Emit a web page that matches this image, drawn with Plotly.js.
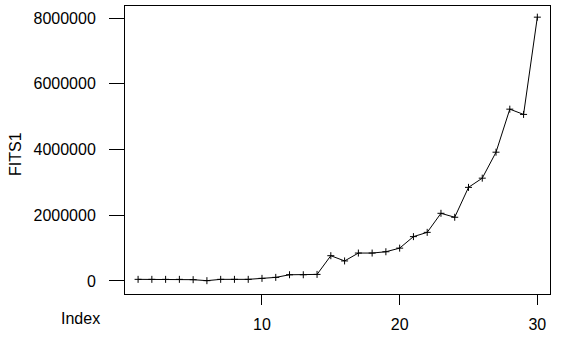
<!DOCTYPE html>
<html>
<head>
<meta charset="utf-8">
<script src="https://cdn.plot.ly/plotly-3.0.1.min.js"></script>
<style>html,body{margin:0;padding:0;background:#fff;}#chart{width:561px;height:338px;}</style>
</head>
<body>
<div id="chart"></div>
<script>
const index = [1,2,3,4,5,6,7,8,9,10,11,12,13,14,15,16,17,18,19,20,21,22,23,24,25,26,27,28,29,30];
const fits1 = [50000,50000,50000,50000,40000,10000,50000,50000,50000,80000,110000,190000,190000,200000,770000,610000,850000,850000,890000,1000000,1350000,1480000,2060000,1940000,2850000,3130000,3920000,5230000,5070000,8030000];
const xTicks = [10,20,30];
const yTicks = [0,2000000,4000000,6000000,8000000];
const xLabel = "Index";
const yLabel = "FITS1";

const font = {family: "Liberation Sans, Arial, sans-serif", size: 16, color: "#000"};

Plotly.newPlot("chart", [{
  x: index, y: fits1, type: "scatter", mode: "lines+markers",
  line: {color: "#000", width: 1},
  marker: {symbol: "cross-thin", size: 5, line: {color: "#000", width: 1}}
}], {
  width: 561, height: 338,
  margin: {l: 125, r: 11, t: 6, b: 44, pad: 0},
  paper_bgcolor: "#fff", plot_bgcolor: "#fff",
  showlegend: false,
  font: font,
  xaxis: {
    range: [0.05, 30.92], tickvals: xTicks, ticktext: xTicks.map(String),
    showgrid: false, zeroline: false, showline: true, mirror: true,
    linecolor: "#000", linewidth: 1, ticks: "outside", ticklen: 10, tickcolor: "#000",
    tickfont: font, ticklabelstandoff: 6
  },
  yaxis: {
    range: [-396000, 8370000], tickvals: yTicks, ticktext: yTicks.map(String),
    showgrid: false, zeroline: false, showline: true, mirror: true,
    linecolor: "#000", linewidth: 1, ticks: "outside", ticklen: 15, tickcolor: "#000",
    tickfont: font, ticklabelstandoff: 10
  },
  annotations: [
    {text: xLabel, xref: "paper", yref: "paper", x: -0.105, y: -0.085, xanchor: "center", yanchor: "middle", showarrow: false, font: font},
    {text: yLabel, xref: "paper", yref: "paper", x: -0.256, y: 0.487, xanchor: "center", yanchor: "middle", textangle: -90, showarrow: false, font: font}
  ]
}, {displayModeBar: false, staticPlot: true});
</script>
</body>
</html>
